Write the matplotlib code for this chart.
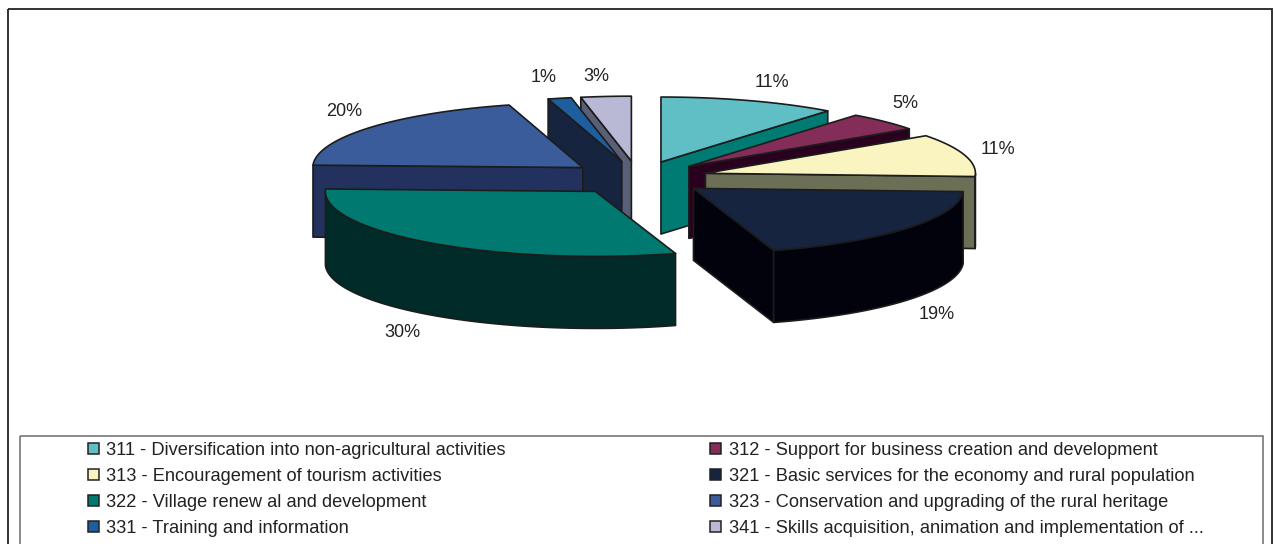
import matplotlib
matplotlib.use("Agg")
import matplotlib.pyplot as plt
from matplotlib.patches import Polygon, Rectangle, Patch
import numpy as np

plt.rcParams['font.family'] = ['Liberation Sans', 'DejaVu Sans']

# slices, clockwise from 12 o'clock
names = ["311 - Diversification into non-agricultural activities",
         "312 - Support for business creation and development",
         "313 - Encouragement of tourism activities",
         "321 - Basic services for the economy and rural population",
         "322 - Village renew al and development",
         "323 - Conservation and upgrading of the rural heritage",
         "331 - Training and information",
         "341 - Skills acquisition, animation and implementation of ..."]
values = [10.6, 4.6, 10.6, 19.4, 30.4, 20.0, 1.4, 3.0]
labels = ["11%", "5%", "11%", "19%", "30%", "20%", "1%", "3%"]
top_colors = ["#5FBFC5", "#832D58", "#FAF5C0", "#16243F", "#007A70", "#3A5C9B", "#1F5E9E", "#B9B9D6"]
side_colors = ["#007B73", "#2A001F", "#6B6F55", "#01020C", "#002B28", "#23315F", "#16243F", "#5A5F75"]
label_offsets = [(23, -18.5), (21, -18.5), (33, -6), (30, 86), (-29, 89), (-26, -16), (-16, -21), (-10, -20)]

# pie geometry in pixels
cx, cy = 638, 178
rx, ry = 270, 65
depth = 72
explode = 0.26
edge = "#1c1c1c"

fig = plt.figure(figsize=(12.74, 5.44), dpi=100)
ax = fig.add_axes([0, 0, 1, 1])
ax.set_xlim(0, 1274)
ax.set_ylim(544, 0)
ax.axis("off")

ax.add_patch(Rectangle((8, 9), 1264, 600, fill=False, ec="#222222", lw=1.3))
ax.add_patch(Rectangle((20, 436), 1243, 200, fill=False, ec="#777777", lw=1.2))


def rim(theta, x0, y0):
    return np.column_stack([x0 + rx * np.cos(theta), y0 - ry * np.sin(theta)])


cum = np.cumsum([0] + values) / sum(values)
starts = np.pi / 2 - 2 * np.pi * cum[:-1]
ends = np.pi / 2 - 2 * np.pi * cum[1:]
mids = (starts + ends) / 2

# back slices first
for i in sorted(range(len(values)), key=lambda k: -np.sin(mids[k])):
    x0 = cx + explode * rx * np.cos(mids[i])
    y0 = cy - explode * ry * np.sin(mids[i])
    theta = np.linspace(starts[i], ends[i], 60)
    arc = rim(theta, x0, y0)
    apex = np.array([x0, y0])
    down = np.array([0, depth])

    # only the cut faces that look toward the viewer
    if np.cos(starts[i]) < 0:
        face = [apex, arc[0], arc[0] + down, apex + down]
        ax.add_patch(Polygon(face, fc=side_colors[i], ec=edge, lw=1.2, joinstyle="round"))
    if np.cos(ends[i]) > 0:
        face = [apex, arc[-1], arc[-1] + down, apex + down]
        ax.add_patch(Polygon(face, fc=side_colors[i], ec=edge, lw=1.2, joinstyle="round"))

    front = arc[np.sin(theta) < 0]
    if len(front) > 1:
        wall = np.vstack([front, (front + down)[::-1]])
        ax.add_patch(Polygon(wall, fc=side_colors[i], ec=edge, lw=1.2, joinstyle="round"))

    ax.add_patch(Polygon(np.vstack([apex, arc]), fc=top_colors[i], ec=edge, lw=1.2, joinstyle="round"))

    lx = cx + (1 + explode) * rx * np.cos(mids[i]) + label_offsets[i][0]
    ly = cy - (1 + explode) * ry * np.sin(mids[i]) + label_offsets[i][1]
    ax.text(lx, ly, labels[i], fontsize=13, color="#222222", ha="center", va="center")

# legend fills by column, reference reads row by row
order = [0, 2, 4, 6, 1, 3, 5, 7]
handles = [Patch(fc=top_colors[i], ec="#222222", lw=1.1, label=names[i]) for i in order]
ax.legend(handles=handles, ncols=2, loc="upper left", bbox_to_anchor=(88, 442),
          bbox_transform=ax.transData, frameon=False, fontsize=13.15, borderpad=0,
          borderaxespad=0, handlelength=0.6, handleheight=0.6, handletextpad=0.4,
          labelspacing=0.49, columnspacing=11.2, labelcolor="#222222")

fig.savefig("out.png", dpi=100)
